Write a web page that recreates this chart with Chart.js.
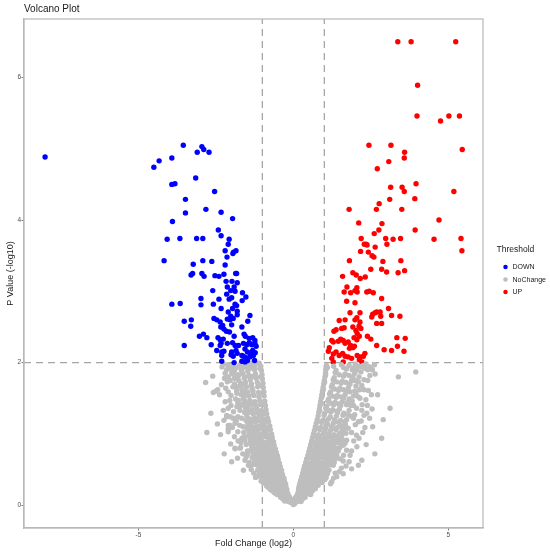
<!DOCTYPE html>
<html><head><meta charset="utf-8">
<script src="https://cdn.jsdelivr.net/npm/chart.js@4/dist/chart.umd.min.js"></script>
<style>html,body{margin:0;padding:0;background:#fff}#wrap{width:550px;height:554px;position:relative}</style>
</head><body><div id="wrap"><canvas id="c"></canvas></div>
<script>
const xTicks = [-5, 0, 5];
const yTicks = [0, 2, 4, 6];
const xRange = [-8.69, 6.12];
const yRange = [-0.32, 6.82];
const fcCut = 1;
const pCut = 2;
const groups = ['DOWN', 'NoChange', 'UP'];

const down = [
[-8.01,4.885],[-3.55,5.05],[-2.95,5.03],[-2.89,4.99],[-3.1,4.95],[-2.72,4.95],[-4.33,4.83],[-4.5,4.74],[-3.92,4.87],[-3.15,4.59],[-3.92,4.5],[-3.82,4.51],[-2.54,4.4],[-3.48,4.29],[-3.48,4.1],[-2.82,4.15],[-2.33,4.11],[-1.96,4.02],[-3.9,3.98],[-2.42,3.86],[-2.33,3.78],[-4.07,3.73],[-3.66,3.74],[-3.12,3.74],[-2.92,3.74],[-2.07,3.73],[-2.1,3.66],[-1.85,3.57],[-2.2,3.57],[-1.95,3.53],[-1.93,3.55],[-2.14,3.48],
[-4.17,3.43],[-3.23,3.38],[-2.92,3.43],[-2.63,3.42],[-2.2,3.37],[-3.3,3.23],[-3.25,3.25],[-2.95,3.25],[-2.88,3.21],[-2.53,3.22],[-2.4,3.21],[-2.24,3.24],[-1.86,3.25],[-1.83,3.25],[-2.17,3.14],[-1.81,3.12],[-1.98,3.14],[-2.13,3.06],[-1.91,3.06],[-2.6,3.01],[-2.02,3.01],[-1.88,3.0],[-1.64,2.98],[-2.15,2.96],[-1.99,2.91],[-2.07,2.89],[-1.53,2.92],[-2.98,2.9],[-2.4,2.89],[-1.65,2.87],[-3.92,2.82],[-3.65,2.83],[-2.98,2.81],[-2.58,2.82],[-1.88,2.82],[-1.83,2.8],[-2.33,2.76],[-1.96,2.76],[-1.81,2.72],[-1.81,2.67],[-2.1,2.71],[-2.02,2.65],[-1.4,2.66],[-2.56,2.62],[-2.47,2.6],[-2.13,2.61],[-2.04,2.6],[-1.94,2.62],[-3.52,2.58],[-3.29,2.6],[-3.31,2.51],[-2.36,2.57],[-2.28,2.52],[-1.99,2.53],[-1.47,2.58],[-1.66,2.5],[-2.34,2.5],[-2.24,2.47],[-2.16,2.44],[-2.06,2.43],[-3.03,2.37],[-2.9,2.4],[-2.79,2.35],[-2.43,2.35],[-2.36,2.32],[-2.26,2.33],[-1.91,2.37],[-1.59,2.4],[-1.55,2.37],[-1.43,2.34],[-1.31,2.35],[-1.24,2.31],[-3.52,2.24],[-2.65,2.25],[-2.36,2.24],[-2.33,2.27],[-2.13,2.27],[-1.96,2.28],[-1.88,2.24],[-1.77,2.24],[-1.61,2.27],[-1.5,2.25],[-1.42,2.28],[-1.34,2.25],[-1.24,2.27],[-1.2,2.23],[-2.47,2.17],[-2.31,2.15],[-2.24,2.16],[-1.99,2.15],[-1.85,2.17],[-1.81,2.13],[-1.66,2.1],[-1.56,2.19],[-1.48,2.15],[-1.4,2.13],[-1.31,2.17],[-1.23,2.14],[-2.31,2.1],[-2.01,2.11],[-1.94,2.09],[-1.61,2.09],[-1.53,2.07],[-1.4,2.08],[-1.29,2.1],[-1.66,2.02],[-1.56,2.01],[-2.31,2.02],[-1.91,2.0],[-1.25,2.03],[-1.48,2.03]
];

const up = [
[3.37,6.5],[3.8,6.5],[5.24,6.5],[4.01,5.89],[3.99,5.46],[4.75,5.39],[5.02,5.46],[5.36,5.46],
[2.44,5.05],[3.15,5.05],[5.45,4.99],[3.59,4.95],[3.58,4.87],[3.08,4.82],[2.71,4.72],
[3.96,4.51],[3.14,4.46],[3.51,4.46],[3.58,4.4],[5.18,4.4],[3.11,4.29],[3.92,4.3],[2.77,4.23],
[1.8,4.15],[2.68,4.15],[3.5,4.15],[4.7,4.0],[2.11,3.96],[2.86,3.95],[2.76,3.86],[2.61,3.81],[3.93,3.86],
[2.19,3.74],[2.98,3.74],[3.22,3.73],[3.46,3.74],[4.54,3.73],[5.41,3.74],
[2.29,3.66],[2.35,3.66],[2.38,3.65],[2.64,3.62],[3.02,3.66],[5.44,3.57],[2.17,3.56],[2.42,3.55],[2.54,3.5],[2.6,3.48],
[1.81,3.43],[2.89,3.42],[3.47,3.43],[2.5,3.31],[2.85,3.31],[3.01,3.27],[3.38,3.26],[3.59,3.29],
[1.59,3.21],[1.92,3.26],[2.03,3.23],[2.16,3.18],[2.32,3.2],
[1.73,3.06],[1.64,2.99],[1.85,2.98],[1.99,3.01],[2.05,3.05],[2.06,2.99],[2.37,2.99],[2.45,3.0],[2.58,2.98],
[1.72,2.86],[1.99,2.84],[2.85,2.9],[1.83,2.7],[1.67,2.6],[2.15,2.7],[2.56,2.68],[2.64,2.7],[2.69,2.71],[2.8,2.71],
[3.07,2.76],[3.17,2.66],[3.44,2.65],[2.53,2.64],[2.82,2.65],[2.69,2.55],[2.85,2.55],[1.99,2.6],[2.05,2.63],[2.15,2.57],[1.48,2.59],
[1.38,2.46],[1.31,2.44],[1.56,2.48],[1.64,2.49],[1.92,2.5],[2.02,2.45],[2.06,2.41],[2.13,2.37],[1.96,2.35],[2.05,2.32],[2.12,2.51],[2.18,2.48],
[2.39,2.37],[2.5,2.33],[3.34,2.35],[3.61,2.34],
[1.24,2.31],[1.29,2.29],[1.45,2.3],[1.53,2.33],[1.61,2.31],[1.67,2.27],[1.77,2.29],[1.85,2.24],[1.92,2.21],[1.97,2.23],[1.81,2.2],
[2.69,2.24],[2.93,2.18],[3.17,2.17],[3.36,2.23],[3.57,2.16],
[1.16,2.21],[1.13,2.16],[1.38,2.15],[1.29,2.12],[1.48,2.1],[1.59,2.13],[1.67,2.09],[2.06,2.1],[2.15,2.08],[2.26,2.09],[2.31,2.13],[1.88,2.06],[1.77,2.08],[1.24,2.06],[1.29,2.01],[1.61,2.01],[2.13,2.04],[2.21,2.01]
];

const noChange = [
[0,0.01],[-0.04,0.03],[0.04,0.02],[-0.09,0.04],[-0.15,0.05],[-0.22,0.06],[-0.05,0.07],[-0.28,0.06],[0.07,0.04],[0.12,0.05],[0.18,0.06],[0.25,0.05],[0.03,0.07],
[-0.1,0.09],[-0.18,0.08],[-0.26,0.1],[-0.34,0.09],[-0.41,0.11],[-0.13,0.12],[-0.21,0.12],[-0.3,0.13],
[-0.17,0.15],[-0.25,0.16],[-0.35,0.15],[-0.44,0.16],[-0.52,0.15],[-0.6,0.17],[-0.2,0.18],[-0.31,0.19],[-0.4,0.18],[-0.49,0.2],[-0.58,0.19],[-0.67,0.2],
[-0.21,0.22],[-0.28,0.23],[-0.37,0.22],[-0.46,0.24],[-0.55,0.23],[-0.64,0.24],[-0.74,0.22],[-0.81,0.25],[-0.24,0.26],[-0.33,0.27],[-0.42,0.26],[-0.51,0.28],[-0.6,0.27],[-0.7,0.28],[-0.86,0.27],
[-0.25,0.3],[-0.35,0.31],[-0.45,0.3],[-0.55,0.32],[-0.65,0.31],[-0.76,0.3],[-0.88,0.32],[-0.96,0.31],[-0.29,0.34],[-0.4,0.35],[-0.5,0.34],[-0.61,0.35],[-0.71,0.34],[-0.82,0.35],[-0.93,0.36],[-1.04,0.34],
[-0.3,0.38],[-0.41,0.4],[-0.52,0.39],[-0.63,0.4],[-0.73,0.38],[-0.85,0.4],[-0.97,0.39],[-1.08,0.41],[-0.35,0.43],[-0.46,0.44],[-0.57,0.43],[-0.68,0.45],[-0.79,0.43],[-0.9,0.44],[-1.01,0.45],[-1.11,0.43],
[-0.38,0.49],[-0.49,0.48],[-0.6,0.5],[-0.71,0.49],[-0.82,0.5],[-0.94,0.48],[-1.05,0.5],[-1.15,0.49],[-0.42,0.54],[-0.54,0.53],[-0.65,0.55],[-0.76,0.54],[-0.87,0.53],[-0.98,0.55],[-1.1,0.54],
[-0.45,0.59],[-0.56,0.58],[-0.68,0.6],[-0.8,0.59],[-0.91,0.6],[-1.03,0.58],[-1.14,0.6],[-1.22,0.59],[-0.49,0.64],[-0.61,0.63],[-0.73,0.65],[-0.85,0.64],[-0.96,0.63],[-1.08,0.65],[-1.19,0.64],
[-0.51,0.69],[-0.63,0.68],[-0.75,0.7],[-0.88,0.69],[-1.0,0.7],[-1.12,0.68],[-1.24,0.7],[-0.55,0.74],[-0.67,0.73],[-0.8,0.75],[-0.93,0.74],[-1.05,0.73],[-1.17,0.75],
[-0.58,0.79],[-0.7,0.78],[-0.83,0.8],[-0.96,0.79],[-1.09,0.8],[-1.21,0.78],[-1.29,0.8],[-0.62,0.84],[-0.74,0.85],[-0.87,0.83],[-1.0,0.85],[-1.13,0.84],[-1.25,0.86],
[-0.64,0.89],[-0.77,0.9],[-0.9,0.88],[-1.03,0.9],[-1.16,0.89],[-1.3,0.91],[-0.68,0.95],[-0.8,0.94],[-0.93,0.96],[-1.06,0.95],[-1.19,0.94],[-1.33,0.96],
[-0.7,1.0],[-0.83,0.99],[-0.96,1.01],[-1.1,1.0],[-1.23,1.02],[-1.36,1.0],[-0.74,1.06],[-0.87,1.05],[-1.0,1.07],[-1.14,1.06],[-1.27,1.05],[-1.39,1.07],
[-0.76,1.11],[-0.9,1.1],[-1.03,1.12],[-1.17,1.11],[-1.31,1.1],[-1.42,1.12],[-0.8,1.17],[-0.94,1.16],[-1.08,1.18],[-1.22,1.17],[-1.36,1.16],
[-0.83,1.22],[-0.97,1.21],[-1.11,1.23],[-1.25,1.22],[-1.4,1.21],[-0.86,1.28],[-1.0,1.27],[-1.14,1.29],[-1.29,1.28],[-1.44,1.3],
[-0.88,1.34],[-1.03,1.33],[-1.18,1.35],[-1.33,1.34],[-1.48,1.36],[-0.9,1.4],[-1.06,1.41],[-1.21,1.39],[-1.37,1.41],[-1.52,1.4],
[-0.92,1.46],[-1.08,1.47],[-1.24,1.45],[-1.4,1.47],[-1.56,1.46],[-0.94,1.53],[-1.11,1.52],[-1.27,1.54],[-1.44,1.53],[-1.6,1.52],
[-0.95,1.59],[-1.12,1.58],[-1.3,1.6],[-1.47,1.59],[-1.64,1.61],[-0.97,1.65],[-1.15,1.66],[-1.33,1.64],[-1.51,1.66],
[-0.98,1.71],[-1.16,1.72],[-1.35,1.7],[-1.54,1.72],[-1.7,1.71],[-1.0,1.77],[-1.2,1.78],[-1.39,1.76],[-1.58,1.78],
[-1.01,1.83],[-1.22,1.84],[-1.43,1.82],[-1.63,1.84],[-1.8,1.83],[-1.03,1.89],[-1.25,1.9],[-1.47,1.88],[-1.68,1.9],[-1.9,1.89],
[-1.05,1.95],[-1.28,1.96],[-1.51,1.94],[-1.73,1.96],[-1.95,1.95],[-1.1,1.99],[-1.36,1.99],[-1.6,1.98],
[-2.83,1.72],[-2.5,1.6],[-2.44,1.62],[-2.79,1.02],[-2.23,0.72],[-1.99,0.61],[-1.61,0.49],[-2.45,1.14],[-2.15,1.26],[-2.1,1.12],[-1.88,0.79],
[-2.1,1.36],[-2.01,1.4],[-1.79,1.43],[-1.82,1.38],[-2.15,1.24],[-2.04,1.24],[-1.79,1.24],[-1.88,1.15],[-2.04,1.12],[-2.1,1.03],[-1.79,1.03],[-1.66,0.94],[-1.56,0.91],[-1.88,0.8],[-1.72,0.8],[-1.56,0.63],[-1.45,0.56],[-1.18,0.4],[-2.1,1.59],[-2.01,1.54],[-1.88,1.66],[-1.83,1.61],[-2.13,1.73],[-2.1,1.8],[-1.99,1.85],[-1.9,1.78],[-1.77,1.82],[-1.66,1.87],[-1.88,1.92],[-1.66,1.94],[-1.45,1.96],[-1.24,1.96],[-2.3,1.94],[-2.15,1.9],[-2.0,1.96],[-2.2,1.85],[-2.58,1.58],[-2.1,1.07],[-1.7,0.81],[-1.37,0.56],
[-1.3,0.57],[-1.26,0.62],[-1.33,0.67],[-1.3,0.73],[-1.37,0.77],[-1.34,0.82],[-1.4,0.87],[-1.38,0.92],[-1.45,0.97],[-1.43,1.03],[-1.5,1.08],[-1.47,1.14],[-1.53,1.19],[-1.5,1.25],[-1.57,1.3],[-1.55,1.37],[-1.62,1.42],[-1.6,1.49],[-1.68,1.55],[-1.66,1.62],[-1.74,1.67],[-1.76,1.75],[-1.85,1.78],[-1.84,1.93],[-1.7,1.98],
[-1.42,0.6],[-1.48,0.71],[-1.52,0.85],[-1.58,0.96],[-1.62,1.1],[-1.67,1.22],[-1.72,1.33],[-1.76,1.47],[-1.82,1.57],[-1.9,1.7],[-1.96,1.84],[-2.05,1.92],
[-2.26,1.98],[-2.12,1.97],[-1.98,1.91],[-2.22,1.78],[-2.04,1.75],[-1.95,1.66],[-2.18,1.64],[-2.32,1.69],[-1.86,1.49],[-2.05,1.47],[-2.2,1.45],[-1.93,1.31],[-2.26,1.33],[-1.84,1.18],[-1.97,1.09],[-2.24,1.19],[-1.73,1.12],[-1.9,0.96],[-2.02,0.86],[-1.78,0.9],[-1.63,0.72],[-1.8,0.66],[-1.52,0.68],[-2.38,1.55],[-2.66,1.29],[-2.35,0.99],[-2.6,1.81],[-1.7,1.4],[-1.58,1.6],[-1.94,1.22],[-1.6,1.02],[-1.69,0.88],[-1.48,0.76],[-1.36,0.5],[-1.28,0.45],[-1.22,0.39],
[-0.44,0.465],[-0.66,0.465],[-0.88,0.465],[-1.08,0.47],[-0.5,0.565],[-0.72,0.565],[-0.94,0.57],[-1.17,0.565],[-0.55,0.665],[-0.78,0.665],[-1.02,0.67],[-1.2,0.67],[-0.6,0.765],[-0.84,0.765],[-1.1,0.77],[-1.26,0.765],[-0.66,0.865],[-0.93,0.865],[-1.18,0.87],[-1.34,0.875],[-0.72,0.97],[-0.99,0.975],[-1.25,0.97],[-1.4,0.98],[-0.78,1.085],[-1.05,1.085],[-1.3,1.08],[-1.45,1.09],[-0.85,1.195],[-1.12,1.195],[-1.37,1.19],[-1.5,1.2],[-0.9,1.31],[-1.17,1.31],[-1.42,1.32],[-0.95,1.43],[-1.24,1.435],[-1.5,1.43],[-0.98,1.56],[-1.3,1.555],[-1.56,1.56],[-1.02,1.68],[-1.36,1.685],[-1.62,1.69],[-1.06,1.8],[-1.33,1.805],[-1.55,1.8],[-1.08,1.92],[-1.38,1.925],[-1.62,1.93],
[0.06,0.1],[0.14,0.09],[0.22,0.1],[0.3,0.09],[0.38,0.11],[0.1,0.12],[0.18,0.13],[0.27,0.12],
[0.13,0.15],[0.21,0.16],[0.3,0.15],[0.39,0.17],[0.48,0.16],[0.56,0.15],[0.16,0.19],[0.25,0.2],[0.34,0.19],[0.43,0.2],[0.52,0.19],[0.61,0.2],
[0.17,0.23],[0.26,0.22],[0.35,0.24],[0.44,0.23],[0.53,0.22],[0.62,0.24],[0.71,0.23],[0.19,0.27],[0.29,0.28],[0.39,0.27],[0.49,0.28],[0.59,0.26],[0.69,0.27],[0.8,0.28],
[0.21,0.31],[0.31,0.32],[0.41,0.31],[0.51,0.33],[0.61,0.31],[0.72,0.32],[0.83,0.31],[0.93,0.32],[0.24,0.35],[0.35,0.36],[0.46,0.35],[0.57,0.36],[0.68,0.34],[0.79,0.36],[0.9,0.35],[1.02,0.36],
[0.27,0.4],[0.38,0.39],[0.49,0.41],[0.6,0.4],[0.71,0.39],[0.82,0.41],[0.94,0.4],[1.06,0.39],[0.3,0.45],[0.42,0.44],[0.54,0.45],[0.66,0.44],[0.77,0.46],[0.89,0.44],[1.0,0.45],[1.1,0.44],
[0.33,0.5],[0.45,0.49],[0.57,0.51],[0.69,0.5],[0.81,0.49],[0.93,0.51],[1.05,0.5],[1.15,0.49],[0.36,0.55],[0.48,0.54],[0.61,0.55],[0.73,0.56],[0.86,0.54],[0.98,0.55],[1.1,0.56],
[0.4,0.6],[0.52,0.59],[0.65,0.61],[0.78,0.6],[0.9,0.59],[1.03,0.61],[1.16,0.6],[1.25,0.62],[0.43,0.65],[0.56,0.66],[0.69,0.64],[0.82,0.65],[0.95,0.66],[1.08,0.64],[1.2,0.66],
[0.47,0.7],[0.6,0.69],[0.73,0.71],[0.87,0.7],[1.0,0.69],[1.13,0.71],[1.27,0.7],[0.5,0.75],[0.64,0.74],[0.78,0.76],[0.92,0.75],[1.06,0.74],[1.2,0.76],[1.33,0.75],
[0.53,0.8],[0.67,0.79],[0.81,0.81],[0.96,0.8],[1.1,0.79],[1.25,0.81],[1.38,0.8],[0.56,0.85],[0.71,0.84],[0.86,0.86],[1.01,0.85],[1.16,0.84],[1.31,0.86],
[0.59,0.9],[0.74,0.89],[0.9,0.91],[1.05,0.9],[1.21,0.89],[1.37,0.91],[1.46,0.9],[0.62,0.95],[0.78,0.94],[0.94,0.96],[1.1,0.95],[1.27,0.94],[1.42,0.96],
[0.65,1.0],[0.81,0.99],[0.97,1.01],[1.14,1.0],[1.31,0.99],[1.48,1.01],[0.68,1.05],[0.85,1.06],[1.02,1.04],[1.2,1.05],[1.37,1.06],
[0.71,1.1],[0.88,1.09],[1.06,1.11],[1.24,1.1],[1.42,1.09],[1.55,1.11],[0.74,1.15],[0.92,1.16],[1.1,1.14],[1.29,1.15],[1.47,1.16],
[0.77,1.2],[0.95,1.19],[1.14,1.21],[1.33,1.2],[1.52,1.19],[0.8,1.25],[0.99,1.26],[1.19,1.24],[1.39,1.25],[1.6,1.26],
[0.82,1.3],[1.01,1.29],[1.22,1.31],[1.43,1.3],[1.63,1.29],[0.84,1.35],[1.05,1.36],[1.27,1.34],[1.49,1.35],
[0.86,1.4],[1.08,1.39],[1.3,1.41],[1.53,1.4],[1.72,1.41],[0.88,1.45],[1.11,1.46],[1.35,1.44],[1.58,1.45],
[0.9,1.5],[1.14,1.49],[1.38,1.51],[1.62,1.5],[1.8,1.49],[0.92,1.55],[1.17,1.56],[1.42,1.54],[1.67,1.55],
[0.94,1.6],[1.2,1.59],[1.46,1.61],[1.72,1.6],[0.96,1.65],[1.23,1.66],[1.5,1.64],[1.78,1.65],
[0.98,1.7],[1.26,1.69],[1.54,1.71],[1.83,1.7],[1.0,1.75],[1.29,1.76],[1.58,1.74],[1.88,1.75],
[1.02,1.8],[1.32,1.79],[1.62,1.81],[1.92,1.8],[1.04,1.85],[1.35,1.86],[1.67,1.84],[1.98,1.85],
[1.05,1.9],[1.38,1.89],[1.71,1.91],[2.05,1.9],[1.07,1.96],[1.3,1.95],[1.55,1.97],[1.8,1.96],[2.1,1.95],
[3.95,1.87],[3.39,1.8],[3.12,1.36],[2.85,0.94],[2.63,0.72],[2.56,1.1],[2.31,1.09],[2.54,1.35],[2.39,1.4],[2.37,1.29],[2.28,1.26],[2.47,1.82],[2.64,1.84],[2.42,1.61],[2.15,1.5],[2.04,0.98],[2.12,0.94],[2.21,0.63],[2.1,0.56],[1.88,0.51],[1.61,0.44],[1.83,0.7],[1.72,0.91],[1.67,0.87],[1.4,0.4],[1.24,0.33],
[2.21,1.94],[2.31,1.92],[2.47,1.94],[1.99,1.75],[2.1,1.73],[2.21,1.68],[1.83,1.59],[2.02,1.57],[2.1,1.52],[1.94,1.4],[2.04,1.36],[2.21,1.33],[1.94,1.22],[2.1,1.17],[1.77,1.08],[1.88,1.02],[1.61,0.84],[1.72,0.77],[1.51,0.65],[1.61,0.62],[1.29,0.56],
[1.32,0.6],[1.36,0.65],[1.4,0.7],[1.45,0.76],[1.5,0.81],[1.53,0.86],[1.58,0.92],[1.56,0.97],[1.62,1.02],[1.66,1.08],[1.68,1.14],[1.72,1.2],[1.76,1.27],[1.8,1.33],[1.85,1.4],[1.9,1.46],[1.94,1.53],[1.98,1.6],[2.02,1.67],[2.08,1.73],[2.12,1.8],[2.18,1.87],[2.25,1.96],
[2.35,1.98],[2.55,1.9],[2.4,1.75],[2.28,1.62],[2.52,1.55],[2.34,1.48],[2.22,1.41],[2.46,1.22],[2.19,1.18],[2.0,1.13],[2.24,1.02],[1.95,0.9],[2.05,0.82],[1.88,0.76],[2.35,0.85],[1.8,0.61],[1.7,0.55],[1.55,0.52],[1.48,0.47],[1.35,0.45],[1.3,0.38],[1.2,0.3],[2.72,1.55],[2.9,1.2],[2.62,1.97],[1.98,1.27],[2.14,1.62],[2.28,1.76],[1.9,1.9],[2.0,1.98],[2.4,1.9],[1.75,1.44],[1.85,1.25],[1.7,1.01],[1.62,0.7],
[0.36,0.465],[0.6,0.47],[0.84,0.465],[1.08,0.47],[0.42,0.57],[0.67,0.565],[0.92,0.57],[1.18,0.565],[0.48,0.675],[0.74,0.67],[1.0,0.675],[1.24,0.67],[0.55,0.775],[0.82,0.77],[1.08,0.775],[1.3,0.78],[0.6,0.875],[0.88,0.87],[1.16,0.875],[1.4,0.88],[0.66,0.97],[0.96,0.975],[1.24,0.97],[1.5,0.96],[0.72,1.075],[1.04,1.08],[1.34,1.075],[1.58,1.06],[0.78,1.175],[1.05,1.18],[1.36,1.175],[1.65,1.17],[0.85,1.33],[1.15,1.325],[1.4,1.32],[0.9,1.425],[1.22,1.43],[1.46,1.42],[0.93,1.525],[1.27,1.53],[1.54,1.52],[0.97,1.625],[1.33,1.63],[1.62,1.62],[1.01,1.725],[1.4,1.73],[1.7,1.72],[1.04,1.825],[1.48,1.83],[1.8,1.82],[1.1,1.93],[1.62,1.93],[1.95,1.93]
];

const fontFamily = "'Liberation Sans', Arial, Helvetica, sans-serif";
Chart.defaults.font.family = fontFamily;

const toPts = arr => arr.map(([x, y]) => ({x, y}));
const colors = {DOWN: '#0000FF', NoChange: '#BEBEBE', UP: '#FF0000'};
const series = {DOWN: down, NoChange: noChange, UP: up};

const pointSets = groups.map(g => ({
  label: g,
  data: toPts(series[g]),
  backgroundColor: colors[g],
  borderColor: colors[g],
  borderWidth: 0,
  pointRadius: 2.7,
  pointHoverRadius: 2.7,
  pointStyle: 'circle'
}));

const dashStyle = {borderColor: '#a6a6a6', borderWidth: 1.3, borderDash: [7, 5], pointRadius: 0, showLine: true, fill: false};
const lineSets = [
  Object.assign({label: 'vl', data: [{x: -fcCut, y: yRange[0]}, {x: -fcCut, y: yRange[1]}]}, dashStyle),
  Object.assign({label: 'vr', data: [{x: fcCut, y: yRange[0]}, {x: fcCut, y: yRange[1]}]}, dashStyle),
  Object.assign({label: 'h', data: [{x: xRange[0], y: pCut}, {x: xRange[1], y: pCut}]}, dashStyle)
];

const panelBorder = {
  id: 'panelBorder',
  afterDatasetsDraw(chart) {
    const {ctx, chartArea: a} = chart;
    ctx.save();
    ctx.strokeStyle = '#b8b8b8';
    ctx.lineWidth = 1.2;
    ctx.strokeRect(a.left, a.top, a.right - a.left, a.bottom - a.top);
    ctx.restore();
  }
};

new Chart(document.getElementById('c'), {
  type: 'scatter',
  data: {datasets: pointSets.concat(lineSets)},
  plugins: [panelBorder],
  options: {
    responsive: true,
    maintainAspectRatio: false,
    animation: false,
    events: [],
    layout: {padding: {left: 0, right: 0, top: 0, bottom: 0}},
    scales: {
      x: {
        type: 'linear', position: 'bottom', min: xRange[0], max: xRange[1],
        afterBuildTicks: s => { s.ticks = xTicks.map(v => ({value: v})); },
        afterFit: s => { s.height = 26; },
        ticks: {font: {size: 6.5}, color: '#4d4d4d', padding: 0.5, maxRotation: 0,
                callback: v => String(v)},
        grid: {display: true, drawOnChartArea: false, drawTicks: true, tickLength: 2.5, color: '#7a7a7a'},
        border: {display: true, color: '#b8b8b8', width: 1.2},
        title: {display: true, text: 'Fold Change (log2)', color: '#1a1a1a', font: {size: 9}, padding: {top: 0, bottom: 4.6}}
      },
      y: {
        type: 'linear', position: 'left', min: yRange[0], max: yRange[1],
        afterBuildTicks: s => { s.ticks = yTicks.map(v => ({value: v})); },
        afterFit: s => { s.width = 24; },
        ticks: {font: {size: 6.5}, color: '#4d4d4d', padding: 0.5, callback: v => String(v)},
        grid: {display: true, drawOnChartArea: false, drawTicks: true, tickLength: 2.5, color: '#7a7a7a'},
        border: {display: true, color: '#b8b8b8', width: 1.2},
        title: {display: true, text: 'P Value (-log10)', color: '#1a1a1a', font: {size: 9}, padding: {top: 5.6, bottom: 0}}
      },
      spacer: {
        type: 'linear', position: 'right', display: true,
        grid: {display: false}, ticks: {display: false}, border: {display: false},
        afterFit: s => { s.width = 13.5; }
      }
    },
    plugins: {
      tooltip: {enabled: false},
      title: {display: true, text: 'Volcano Plot', align: 'start', fullSize: false, color: '#1a1a1a',
              font: {size: 10, weight: 'normal'}, padding: {top: 3, bottom: 4}},
      legend: {
        display: true, position: 'right', align: 'center', fullSize: false, maxWidth: 53.5,
        title: {display: true, text: 'Threshold', position: 'start', color: '#1a1a1a', font: {size: 8.5}, padding: {top: 0, bottom: 2}},
        labels: {usePointStyle: true, pointStyle: 'circle', boxWidth: 7, boxHeight: 3.2, padding: 5.5,
                 color: '#1a1a1a', font: {size: 7},
                 filter: item => groups.includes(item.text)}
      }
    }
  }
});
</script>
</body></html>
